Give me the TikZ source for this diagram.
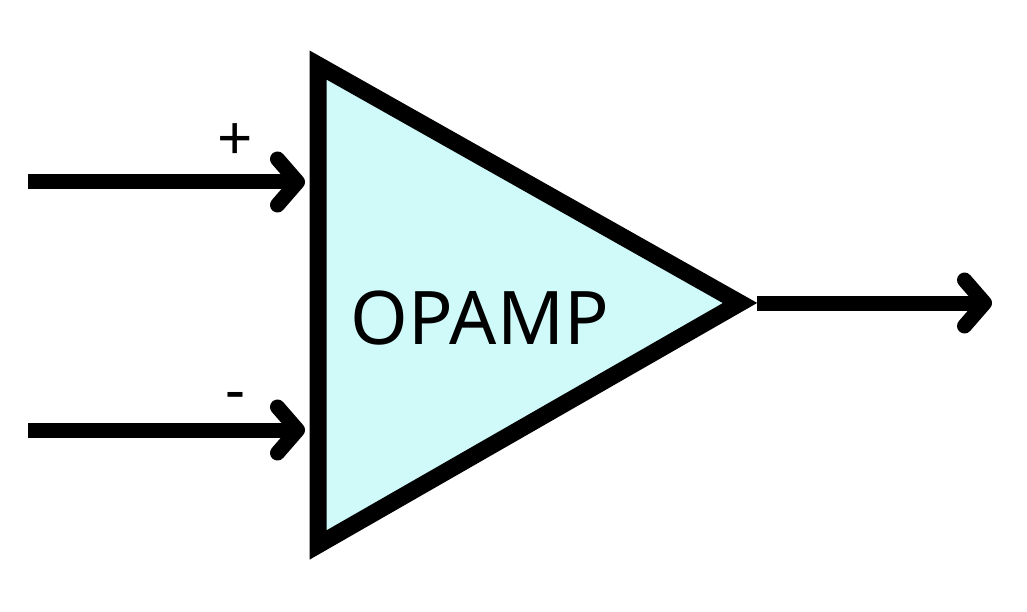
\documentclass[tikz,border=0pt]{standalone}
\usepackage{fontspec}
\setmainfont{Noto Sans}
\usetikzlibrary{arrows.meta}
\begin{document}
\begin{tikzpicture}[x=1pt,y=-1pt,
  wire/.style={line width=15pt,-{Straight Barb[round,length=20pt,width=46pt]}},
  lbl/.style={font=\fontsize{62}{66}\selectfont}]
\useasboundingbox (0,0) rectangle (1027,612);
\draw[line width=17pt,fill={rgb,255:red,208;green,250;blue,250},line join=miter]
  (318,65) coordinate (tl) -- (740,303) coordinate (apex) -- (318,545) coordinate (bl) -- cycle;
\node[font=\fontsize{74}{80}\selectfont] (op) at (480,318) {OPAMP};
\coordinate (inp) at (28,182);
\coordinate (inpe) at (305,182);
\coordinate (inm) at (28,430);
\coordinate (inme) at (305,430);
\coordinate (out) at (757,303);
\coordinate (oute) at (992,303);
\draw[wire] (inp) -- (inpe);
\draw[wire] (inm) -- (inme);
\draw[wire] (out) -- (oute);
\node[lbl] (plus) at (235,142) {+};
\node[lbl] (minus) at (235,402) {-};
\end{tikzpicture}
\end{document}
